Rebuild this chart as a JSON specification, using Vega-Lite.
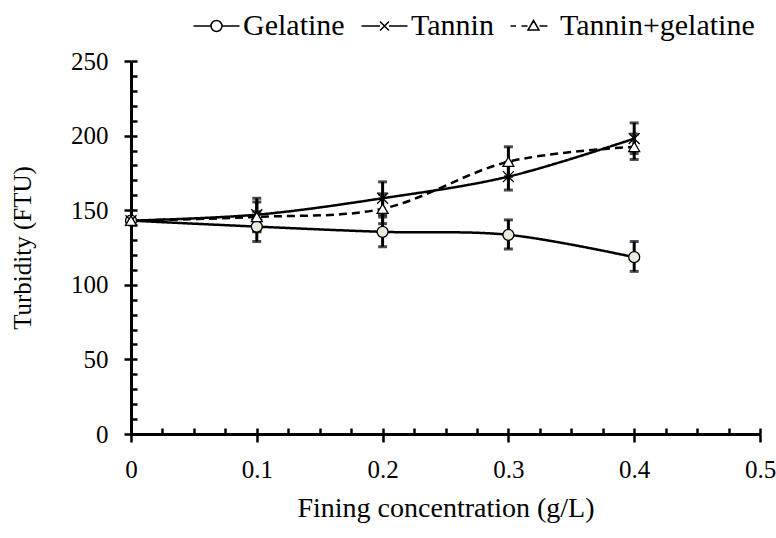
{
  "$schema": "https://vega.github.io/schema/vega-lite/v6.json",
  "width": 629,
  "height": 373,
  "autosize": {"type": "none"},
  "padding": {"left": 131, "top": 61, "right": 16, "bottom": 104},
  "background": "white",
  "config": {
    "view": {"stroke": null},
    "font": "Liberation Serif",
    "axis": {"labelFont": "Liberation Serif", "titleFont": "Liberation Serif", "labelColor": "black", "titleColor": "black", "titleFontWeight": "normal", "grid": false, "domainColor": "black", "tickColor": "black"},
    "legend": {"labelFont": "Liberation Serif", "labelColor": "black"}
  },
  "data": {"values": [
    {"x": 0, "series": "Gelatine", "y": 143, "lo": null, "hi": null},
    {"x": 0.1, "series": "Gelatine", "y": 139, "lo": 129, "hi": 149},
    {"x": 0.2, "series": "Gelatine", "y": 135.5, "lo": 125.5, "hi": 145.5},
    {"x": 0.3, "series": "Gelatine", "y": 133.5, "lo": 124, "hi": 143.5},
    {"x": 0.4, "series": "Gelatine", "y": 118.5, "lo": 109, "hi": 129},
    {"x": 0, "series": "Tannin", "y": 143, "lo": null, "hi": null},
    {"x": 0.1, "series": "Tannin", "y": 147, "lo": 136, "hi": 158},
    {"x": 0.2, "series": "Tannin", "y": 158, "lo": 147, "hi": 169},
    {"x": 0.3, "series": "Tannin", "y": 172.5, "lo": 163.5, "hi": 182},
    {"x": 0.4, "series": "Tannin", "y": 198, "lo": 188, "hi": 208.5},
    {"x": 0, "series": "Tannin+gelatine", "y": 143, "lo": null, "hi": null},
    {"x": 0.1, "series": "Tannin+gelatine", "y": 145.5, "lo": 135.5, "hi": 155.5},
    {"x": 0.2, "series": "Tannin+gelatine", "y": 151, "lo": 141, "hi": 161},
    {"x": 0.3, "series": "Tannin+gelatine", "y": 182.5, "lo": 172.5, "hi": 192.5},
    {"x": 0.4, "series": "Tannin+gelatine", "y": 192.5, "lo": 184, "hi": 201}
  ]},
  "resolve": {"scale": {"shape": "independent"}, "axis": {"x": "independent", "y": "independent"}},
  "layer": [
    {
      "mark": {"type": "line", "interpolate": "catmull-rom", "color": "black", "strokeWidth": 2.5},
      "encoding": {
        "x": {"field": "x", "type": "quantitative", "scale": {"domain": [0, 0.5], "nice": false, "zero": false},
          "axis": {"orient": "bottom", "values": [0, 0.1, 0.2, 0.3, 0.4, 0.5], "format": "~g", "tickSize": 8, "tickWidth": 2.5, "domainWidth": 3, "labelFontSize": 25, "labelPadding": 15, "labelFlush": false, "labelOverlap": false, "title": "Fining concentration (g/L)", "titleFontSize": 28, "titlePadding": 12}},
        "y": {"field": "y", "type": "quantitative", "scale": {"domain": [0, 250], "nice": false},
          "axis": {"orient": "left", "values": [0, 50, 100, 150, 200, 250], "tickSize": 7, "tickWidth": 2.5, "domainWidth": 3, "labelFontSize": 25, "labelPadding": 16, "labelFlush": false, "labelOverlap": false, "title": "Turbidity (FTU)", "titleFontSize": 25, "titlePadding": 35}},
        "strokeDash": {"field": "series", "type": "nominal", "scale": {"domain": ["Gelatine", "Tannin", "Tannin+gelatine"], "range": [[1, 0], [1, 0], [8, 5]]}, "legend": null}
      }
    },
    {
      "transform": [{"filter": "datum.lo != null"}],
      "mark": {"type": "rule", "color": "black", "strokeWidth": 3},
      "encoding": {
        "x": {"field": "x", "type": "quantitative",
          "axis": {"orient": "bottom", "values": [0, 0.025, 0.05, 0.075, 0.1, 0.125, 0.15, 0.175, 0.2, 0.225, 0.25, 0.275, 0.3, 0.325, 0.35, 0.375, 0.4, 0.425, 0.45, 0.475, 0.5], "tickSize": -6, "tickWidth": 2.5, "labels": false, "domain": false, "title": null}},
        "y": {"field": "lo", "type": "quantitative",
          "axis": {"orient": "left", "values": [0, 10, 20, 30, 40, 50, 60, 70, 80, 90, 100, 110, 120, 130, 140, 150, 160, 170, 180, 190, 200, 210, 220, 230, 240, 250], "tickSize": -6, "tickWidth": 2.5, "labels": false, "domain": false, "title": null}},
        "y2": {"field": "hi"}
      }
    },
    {
      "transform": [{"filter": "datum.lo != null"}],
      "mark": {"type": "tick", "orient": "horizontal", "color": "black", "size": 9, "thickness": 3},
      "encoding": {
        "x": {"field": "x", "type": "quantitative", "axis": null},
        "y": {"field": "lo", "type": "quantitative", "axis": null}
      }
    },
    {
      "transform": [{"filter": "datum.lo != null"}],
      "mark": {"type": "tick", "orient": "horizontal", "color": "black", "size": 9, "thickness": 3},
      "encoding": {
        "x": {"field": "x", "type": "quantitative", "axis": null},
        "y": {"field": "hi", "type": "quantitative", "axis": null}
      }
    },
    {
      "mark": {"type": "point", "filled": true, "stroke": "black", "strokeWidth": 1.3, "size": 120, "opacity": 1},
      "encoding": {
        "x": {"field": "x", "type": "quantitative", "axis": null},
        "y": {"field": "y", "type": "quantitative", "axis": null},
        "shape": {"field": "series", "type": "nominal", "scale": {"domain": ["Gelatine", "Tannin", "Tannin+gelatine"], "range": ["circle", "M-1,-1L1,1M1,-1L-1,1", "triangle-up"]}, "legend": null},
        "fill": {"field": "series", "type": "nominal", "scale": {"domain": ["Gelatine", "Tannin", "Tannin+gelatine"], "range": ["#ECEADF", "#ECEADF", "white"]}, "legend": null}
      }
    },
    {
      "data": {"values": []},
      "mark": {"type": "point", "filled": false, "color": "black", "strokeWidth": 1.5, "size": 100, "opacity": 1},
      "encoding": {
        "shape": {"field": "series", "type": "nominal",
          "scale": {"domain": ["Gelatine", "Tannin", "Tannin+gelatine"], "range": [
            "M-4.6,0L-1.1,0M1.1,0L4.6,0M-1.1,0A1.1,1.1 0 1,0 1.1,0A1.1,1.1 0 1,0 -1.1,0Z",
            "M-4.6,0L-0.9,0M0.9,0L4.6,0M-0.9,-0.9L0.9,0.9M0.9,-0.9L-0.9,0.9",
            "M-4.6,0L-3.5,0M-2.4,0L-1.2,0M1.2,0L2.8,0M0,-1.1L1.1,0.8L-1.1,0.8Z"
          ]},
          "legend": {"title": null, "orient": "none", "direction": "horizontal", "legendX": 70.5, "legendY": -50, "labelFontSize": 30, "labelLimit": 0, "labelOffset": 11.5, "columnPadding": 13, "symbolSize": 100, "symbolStrokeWidth": 1.5,
            "encode": {"symbols": {"update": {"stroke": {"value": "black"}, "fill": {"value": "white"}, "strokeWidth": {"value": 1.5}, "opacity": {"value": 1}}}}}
        }
      }
    }
  ]
}
